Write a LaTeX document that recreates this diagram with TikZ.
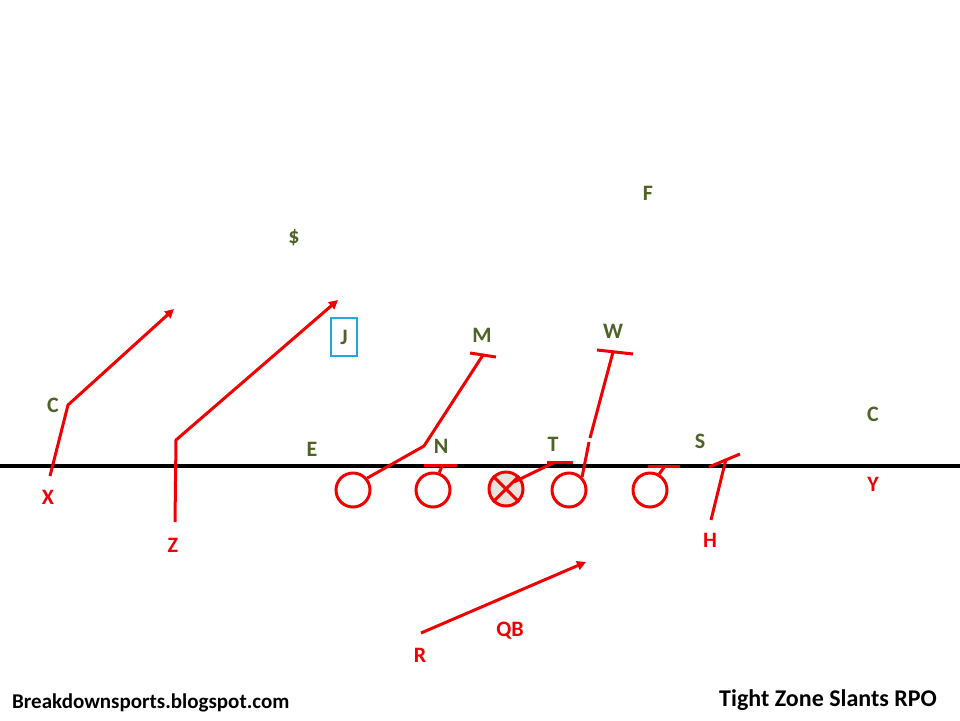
\documentclass[tikz,border=0pt]{standalone}
\usepackage{fontspec}
\setmainfont{Carlito}
\usetikzlibrary{arrows.meta}
\definecolor{pred}{RGB}{240,0,0}
\definecolor{dgreen}{RGB}{79,98,40}
\definecolor{jblue}{RGB}{30,170,220}
\definecolor{cfill}{RGB}{232,228,220}
\tikzset{
  lbl/.style={font=\fontsize{22}{26}\selectfont\bfseries, inner sep=0pt},
  dlbl/.style={lbl, text=dgreen},
  olbl/.style={lbl, text=pred},
  route/.style={draw=pred, line width=3pt, line join=round},
  arr/.style={route, -{Triangle[length=9pt,width=9pt]}},
  oline/.style={circle, draw=pred, line width=3pt, minimum size=34pt, inner sep=0pt},
}
\begin{document}
\begin{tikzpicture}[x=1pt,y=-1pt]
\useasboundingbox (0,0) rectangle (960,720);
\fill[white] (0,0) rectangle (960,720);
% line of scrimmage
\coordinate (losL) at (0,466);
\coordinate (losR) at (960,466);
\draw[line width=3.2pt] (losL) -- (losR);

% defense labels
\node[dlbl] (dollar) at (294,238) {\$};
\node[dlbl] (F) at (648,193) {F};
\node[dlbl, draw=jblue, line width=1.5pt, minimum width=26pt, minimum height=38pt] (J) at (344,337) {J};
\node[dlbl] (M) at (482,335) {M};
\node[dlbl] (W) at (613,331) {W};
\node[dlbl] (C1) at (53,405) {C};
\node[dlbl] (E) at (312,449) {E};
\node[dlbl] (N) at (441,446) {N};
\node[dlbl] (T) at (553,444) {T};
\node[dlbl] (S) at (700,441) {S};
\node[dlbl] (C2) at (873,414) {C};

% offense labels
\node[olbl] (X) at (48,497) {X};
\node[olbl] (Z) at (173,545) {Z};
\node[olbl] (H) at (710,540) {H};
\node[olbl] (Y) at (873,484) {Y};
\node[olbl] (R) at (420,655) {R};
\node[olbl] (QB) at (510,631) {QB};

% linemen
\node[oline] (LT) at (353,490) {};
\node[oline] (LG) at (433,490) {};
\node[oline, fill=cfill] (Cn) at (506,489) {};
\node[oline] (RG) at (569,490) {};
\node[oline] (RT) at (650,490) {};
\draw[pred, line width=3pt] (Cn.north west) -- (Cn.south east) (Cn.north east) -- (Cn.south west);

% LT block to M
\coordinate (lt1) at (424,446);
\coordinate (lt2) at (483,355);
\coordinate (ltb1) at (470,353);
\coordinate (ltb2) at (496,357);
\draw[route] (LT.40) -- (lt1) -- (lt2);
\draw[route] (ltb1) -- (ltb2);

% LG block
\coordinate (lg1) at (442,466);
\coordinate (lgb1) at (424,465);
\coordinate (lgb2) at (457,465);
\draw[route] (LG.70) -- (lg1);
\draw[route] (lgb1) -- (lgb2);

% Center block
\coordinate (c0) at (514,482);
\coordinate (c1) at (553,463);
\coordinate (cb1) at (547,462);
\coordinate (cb2) at (573,462);
\draw[route] (c0) -- (c1);
\draw[route] (cb1) -- (cb2);

% RG block to W
\coordinate (rg1) at (589,442);
\coordinate (rg2) at (590,438);
\coordinate (rg3) at (613,352);
\coordinate (rgb1) at (597,350);
\coordinate (rgb2) at (633,354);
\draw[route] (RG.45) -- (rg1);
\draw[route] (rg2) -- (rg3);
\draw[route] (rgb1) -- (rgb2);

% RT block
\coordinate (rt1) at (665,466);
\coordinate (rtb1) at (648,466);
\coordinate (rtb2) at (680,466);
\draw[route] (RT.60) -- (rt1);
\draw[route] (rtb1) -- (rtb2);

% H route
\coordinate (h0) at (711,520);
\coordinate (h1) at (726,459);
\coordinate (hb1) at (709,467);
\coordinate (hb2) at (740,454);
\draw[route] (h0) -- (h1);
\draw[route] (hb1) -- (hb2);

% X route
\coordinate (x0) at (50,476);
\coordinate (x1) at (68,405);
\coordinate (x2) at (174,309);
\draw[arr] (x0) -- (x1) -- (x2);

% Z route
\coordinate (z0) at (175,522);
\coordinate (z1) at (176,440);
\coordinate (z2) at (338,300);
\draw[arr] (z0) -- (z1) -- (z2);

% QB path
\coordinate (q0) at (421,633);
\coordinate (q1) at (586,562);
\draw[arr] (q0) -- (q1);

% captions
\node[lbl, font=\fontsize{21}{25}\selectfont\bfseries, anchor=west] (site) at (12,703) {Breakdownsports.blogspot.com};
\node[lbl, font=\fontsize{24}{28}\selectfont\bfseries, anchor=east] (title) at (937,700) {Tight Zone Slants RPO};
\end{tikzpicture}
\end{document}
